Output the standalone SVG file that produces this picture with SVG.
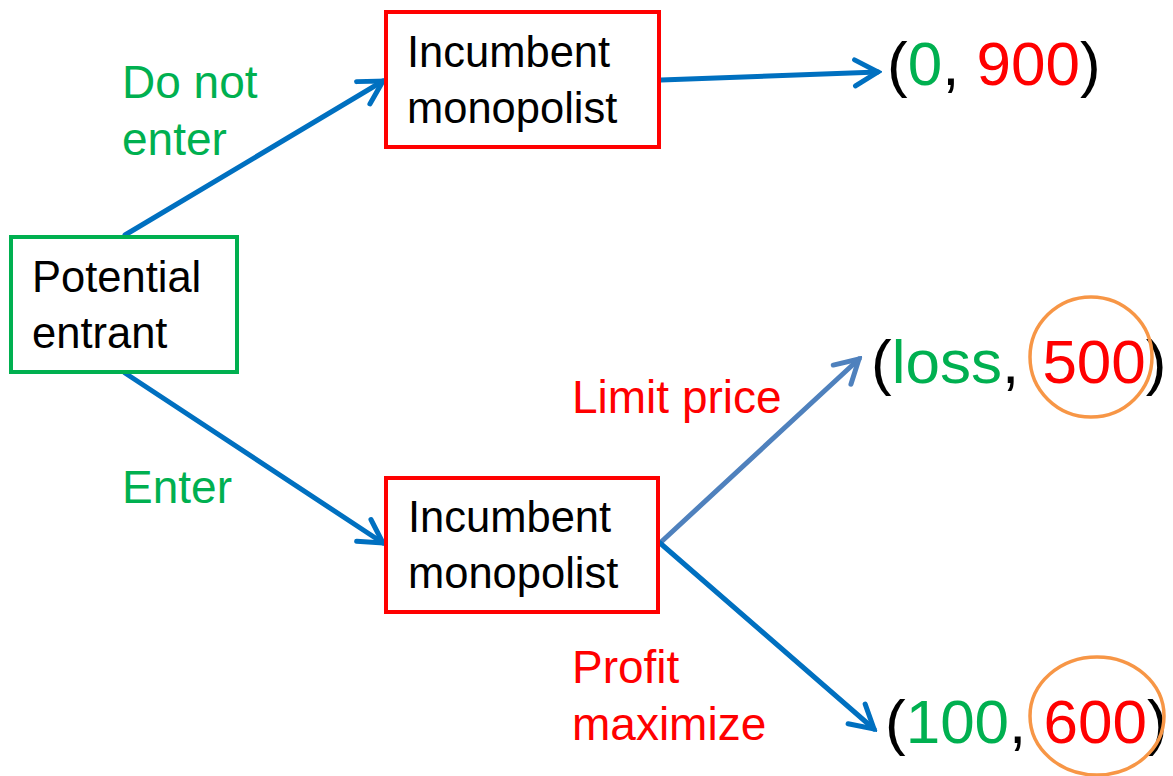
<svg xmlns="http://www.w3.org/2000/svg" width="1173" height="776" viewBox="0 0 1173 776">
  <style>
    .box { fill: #ffffff; stroke-width: 4; }
    .entrant { stroke: #00B050; }
    .incumbent { stroke: #FF0000; }
    .node-text { font-family: "Liberation Sans", Arial, sans-serif; font-size: 43.5px; fill: #000000; }
    .label { font-family: "Liberation Sans", Arial, sans-serif; font-size: 46px; }
    .payoff { font-family: "Liberation Sans", Arial, sans-serif; font-size: 62px; fill: #000000; }
    .green { fill: #00B050; }
    .red { fill: #FF0000; }
    .edge { fill: none; stroke-width: 5; stroke-linecap: round; }
    .blue { stroke: #0070C0; }
    .steel { stroke: #4F81BD; }
    .ring { fill: none; stroke: #F79646; stroke-width: 3.5; }
  </style>
  <defs>
    <marker id="head-blue" markerUnits="userSpaceOnUse" viewBox="-30 -20 34 40" refX="0" refY="0" markerWidth="34" markerHeight="40" orient="auto">
      <path d="M -23 -13 L 0 0 L -23 13" fill="none" stroke="#0070C0" stroke-width="5" stroke-linecap="round" stroke-linejoin="miter"/>
    </marker>
    <marker id="head-steel" markerUnits="userSpaceOnUse" viewBox="-30 -20 34 40" refX="0" refY="0" markerWidth="34" markerHeight="40" orient="auto">
      <path d="M -23 -13 L 0 0 L -23 13" fill="none" stroke="#4F81BD" stroke-width="5" stroke-linecap="round" stroke-linejoin="miter"/>
    </marker>
  </defs>

  <rect width="1173" height="776" fill="#ffffff"/>

  <!-- connectors -->
  <g id="connectors">
    <line class="edge blue" x1="125" y1="235" x2="383" y2="81" marker-end="url(#head-blue)"/>
    <line class="edge blue" x1="125" y1="373" x2="383" y2="543" marker-end="url(#head-blue)"/>
    <line class="edge blue" x1="661" y1="80" x2="878" y2="72" marker-end="url(#head-blue)"/>
    <line class="edge steel" x1="660" y1="543" x2="859" y2="359" marker-end="url(#head-steel)"/>
    <line class="edge blue" x1="660" y1="543" x2="874" y2="729" marker-end="url(#head-blue)"/>
  </g>

  <!-- decision nodes -->
  <g id="potential-entrant">
    <rect class="box entrant" x="11" y="237" width="226" height="135"/>
    <text class="node-text" x="32" y="292">Potential</text>
    <text class="node-text" x="32" y="348">entrant</text>
  </g>

  <g id="incumbent-top">
    <rect class="box incumbent" x="386" y="12" width="273" height="135"/>
    <text class="node-text" x="407" y="67">Incumbent</text>
    <text class="node-text" x="407" y="123">monopolist</text>
  </g>

  <g id="incumbent-bottom">
    <rect class="box incumbent" x="386" y="478" width="272" height="134"/>
    <text class="node-text" x="408" y="532">Incumbent</text>
    <text class="node-text" x="408" y="588">monopolist</text>
  </g>

  <!-- branch labels -->
  <g id="label-do-not-enter">
    <text class="label green" x="122" y="98">Do not</text>
    <text class="label green" x="122" y="155">enter</text>
  </g>
  <g id="label-enter">
    <text class="label green" x="122" y="503">Enter</text>
  </g>
  <g id="label-limit-price">
    <text class="label red" x="572" y="413">Limit price</text>
  </g>
  <g id="label-profit-maximize">
    <text class="label red" x="572" y="683">Profit</text>
    <text class="label red" x="572" y="740">maximize</text>
  </g>

  <!-- payoffs -->
  <g id="payoff-no-entry">
    <text class="payoff" x="887" y="85">(<tspan class="green">0</tspan>, <tspan class="red">900</tspan>)</text>
  </g>
  <g id="payoff-limit-price">
    <text class="payoff" x="871" y="383">(<tspan class="green">loss</tspan>, <tspan class="red" dx="6">500</tspan>)</text>
    <ellipse class="ring" cx="1091" cy="357" rx="61" ry="60"/>
  </g>
  <g id="payoff-profit-max">
    <text class="payoff" x="885" y="743">(<tspan class="green">100</tspan>, <tspan class="red">600</tspan>)</text>
    <ellipse class="ring" cx="1097" cy="716" rx="67" ry="59"/>
  </g>
</svg>
